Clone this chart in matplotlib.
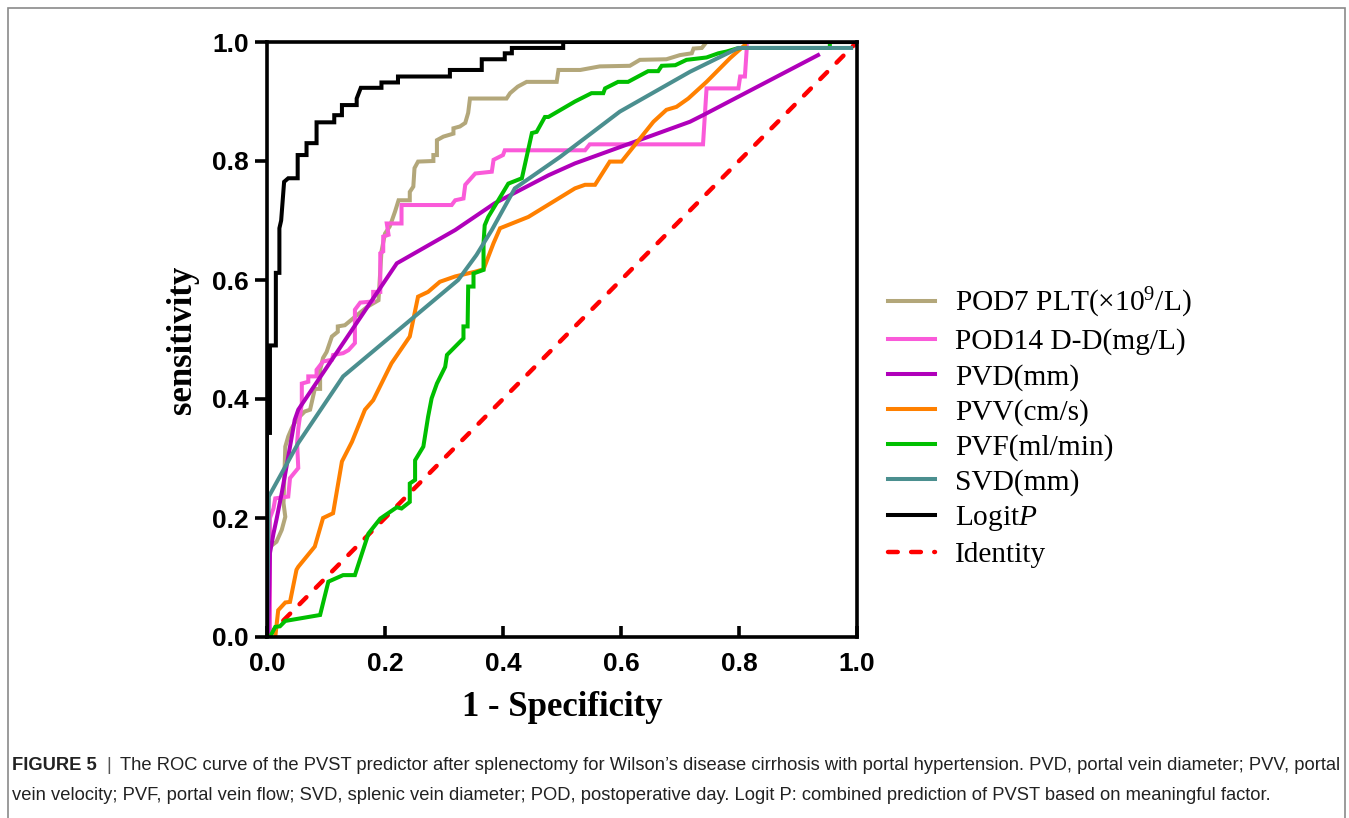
import matplotlib
matplotlib.use("Agg")
import matplotlib.pyplot as plt
from matplotlib.patches import Rectangle

plt.rcParams['mathtext.fontset'] = 'custom'
plt.rcParams['mathtext.rm'] = 'Liberation Serif'
plt.rcParams['mathtext.it'] = 'Liberation Serif:italic'

# ROC curves (x = 1 - specificity, y = sensitivity)
plt_x = [0.0, 0.003, 0.016, 0.025, 0.031, 0.028, 0.031, 0.036, 0.042, 0.050, 0.064, 0.073,
         0.076, 0.081, 0.090, 0.090, 0.095, 0.101, 0.110, 0.120, 0.120, 0.132, 0.149, 0.170,
         0.189, 0.194, 0.200, 0.208, 0.211, 0.217, 0.223, 0.242, 0.242, 0.248, 0.250, 0.256,
         0.282, 0.282, 0.288, 0.288, 0.299, 0.316, 0.316, 0.327, 0.336, 0.341, 0.344, 0.406,
         0.412, 0.425, 0.440, 0.491, 0.494, 0.531, 0.564, 0.615, 0.632, 0.677, 0.700, 0.720,
         0.723, 0.737, 0.745, 1.0]
plt_y = [0.0, 0.150, 0.160, 0.180, 0.202, 0.225, 0.320, 0.337, 0.351, 0.365, 0.379, 0.382,
         0.395, 0.417, 0.417, 0.449, 0.469, 0.479, 0.505, 0.513, 0.522, 0.524, 0.538, 0.555,
         0.566, 0.648, 0.678, 0.690, 0.698, 0.715, 0.734, 0.734, 0.748, 0.757, 0.788, 0.799,
         0.800, 0.810, 0.810, 0.835, 0.841, 0.846, 0.855, 0.858, 0.864, 0.881, 0.905, 0.905,
         0.914, 0.925, 0.933, 0.933, 0.953, 0.953, 0.959, 0.960, 0.970, 0.971, 0.978, 0.981,
         0.989, 0.990, 1.0, 1.0]

dd_x = [0.005, 0.005, 0.011, 0.014, 0.036, 0.039, 0.053, 0.051, 0.053, 0.059, 0.059, 0.070,
        0.070, 0.084, 0.084, 0.095, 0.110, 0.112, 0.129, 0.138, 0.149, 0.149, 0.158, 0.180,
        0.180, 0.192, 0.192, 0.197, 0.197, 0.206, 0.203, 0.228, 0.228, 0.313, 0.319, 0.333,
        0.336, 0.353, 0.381, 0.384, 0.400, 0.403, 0.539, 0.547, 0.739, 0.745, 0.799, 0.802,
        0.810, 0.813, 0.813, 1.0]
dd_y = [0.0, 0.200, 0.216, 0.233, 0.236, 0.267, 0.284, 0.326, 0.350, 0.393, 0.426, 0.429,
        0.438, 0.438, 0.449, 0.463, 0.466, 0.474, 0.477, 0.482, 0.494, 0.550, 0.562, 0.564,
        0.580, 0.580, 0.645, 0.648, 0.673, 0.676, 0.695, 0.695, 0.726, 0.726, 0.734, 0.737,
        0.760, 0.779, 0.782, 0.802, 0.810, 0.818, 0.818, 0.828, 0.828, 0.922, 0.922, 0.942,
        0.942, 0.987, 1.0, 1.0]

pvd_x = [0.002, 0.004, 0.005, 0.011, 0.016, 0.025, 0.033, 0.047, 0.053, 0.220, 0.319,
         0.386, 0.477, 0.522, 0.717, 0.739, 0.934]
pvd_y = [0.0, 0.085, 0.141, 0.174, 0.197, 0.242, 0.286, 0.365, 0.382, 0.628, 0.684,
         0.729, 0.776, 0.796, 0.866, 0.877, 0.978]

pvv_x = [0.014, 0.019, 0.031, 0.039, 0.050, 0.053, 0.081, 0.095, 0.112, 0.127, 0.144, 0.166,
         0.180, 0.211, 0.242, 0.256, 0.273, 0.293, 0.319, 0.353, 0.367, 0.384, 0.395, 0.443,
         0.522, 0.539, 0.556, 0.581, 0.601, 0.655, 0.677, 0.694, 0.714, 0.745, 0.785, 0.810,
         0.810, 1.0]
pvv_y = [0.0, 0.045, 0.058, 0.059, 0.113, 0.118, 0.152, 0.200, 0.208, 0.295, 0.328, 0.382,
         0.398, 0.460, 0.505, 0.572, 0.580, 0.597, 0.606, 0.614, 0.618, 0.662, 0.687, 0.706,
         0.754, 0.760, 0.760, 0.799, 0.799, 0.866, 0.886, 0.891, 0.905, 0.933, 0.973, 0.995,
         1.0, 1.0]

pvf_x = [0.005, 0.014, 0.022, 0.031, 0.090, 0.104, 0.129, 0.149, 0.172, 0.192, 0.220, 0.228,
         0.242, 0.242, 0.251, 0.251, 0.265, 0.273, 0.279, 0.288, 0.302, 0.305, 0.333, 0.333,
         0.340, 0.341, 0.350, 0.350, 0.367, 0.367, 0.369, 0.375, 0.409, 0.432, 0.449, 0.457,
         0.471, 0.477, 0.522, 0.550, 0.570, 0.573, 0.595, 0.612, 0.646, 0.663, 0.669, 0.692,
         0.711, 0.745, 0.765, 0.779, 0.796, 0.805, 0.954, 0.954, 1.0]
pvf_y = [0.0, 0.017, 0.018, 0.027, 0.037, 0.093, 0.104, 0.104, 0.174, 0.199, 0.218, 0.216,
         0.227, 0.258, 0.264, 0.297, 0.320, 0.370, 0.401, 0.426, 0.454, 0.474, 0.502, 0.522,
         0.522, 0.589, 0.589, 0.611, 0.617, 0.662, 0.692, 0.706, 0.762, 0.771, 0.847, 0.849,
         0.874, 0.874, 0.900, 0.914, 0.914, 0.922, 0.933, 0.933, 0.951, 0.951, 0.960, 0.961,
         0.970, 0.974, 0.981, 0.984, 0.989, 0.990, 0.990, 1.0, 1.0]

svd_x = [0.0, 0.003, 0.053, 0.129, 0.324, 0.355, 0.381, 0.420, 0.497, 0.598, 0.717, 0.799, 0.99]
svd_y = [0.0, 0.236, 0.326, 0.438, 0.600, 0.642, 0.684, 0.754, 0.807, 0.883, 0.950, 0.990, 0.990]

logit_x = [0.0, 0.0, 0.005, 0.005, 0.015, 0.015, 0.021, 0.021, 0.024, 0.029, 0.036, 0.052,
           0.052, 0.067, 0.067, 0.084, 0.084, 0.114, 0.114, 0.127, 0.127, 0.152, 0.152, 0.159,
           0.194, 0.194, 0.222, 0.222, 0.310, 0.310, 0.364, 0.364, 0.403, 0.403, 0.415, 0.415,
           0.502, 0.502, 1.0]
logit_y = [0.0, 0.343, 0.343, 0.490, 0.490, 0.612, 0.612, 0.687, 0.700, 0.765, 0.771, 0.771,
           0.810, 0.810, 0.830, 0.830, 0.865, 0.865, 0.877, 0.877, 0.894, 0.894, 0.905, 0.923,
           0.923, 0.932, 0.932, 0.942, 0.942, 0.953, 0.953, 0.971, 0.971, 0.981, 0.981, 0.990,
           0.990, 1.0, 1.0]

labels = [r'POD7 PLT($\times$10$^{9}$/L)', 'POD14 D-D(mg/L)', 'PVD(mm)', 'PVV(cm/s)',
          'PVF(ml/min)', 'SVD(mm)', r'Logit$\mathit{P}$', 'Identity']
colors = ['#B3A77A', '#FA5AD9', '#B000BA', '#FF8000', '#00BF00', '#4B8F8F', '#000000', '#FF0000']
ticks = [0, 0.2, 0.4, 0.6, 0.8, 1.0]
tick_labels = ['0.0', '0.2', '0.4', '0.6', '0.8', '1.0']

fig = plt.figure(figsize=(13.49, 8.18), dpi=100)
ax = fig.add_axes([267 / 1349, 181 / 818, 590 / 1349, 595 / 818])

lw = 2.9
ax.plot([0, 1], [0, 1], color=colors[7], lw=3.2, ls=(0, (2.2, 3.0)),
        dash_capstyle='round', label=labels[7], zorder=1)
series = [(plt_x, plt_y), (dd_x, dd_y), (pvd_x, pvd_y), (pvv_x, pvv_y),
          (pvf_x, pvf_y), (svd_x, svd_y), (logit_x, logit_y)]
lines = []
for i, (xs, ys) in enumerate(series):
    ln, = ax.plot(xs, ys, color=colors[i], lw=lw, label=labels[i], zorder=2 + i,
                  solid_joinstyle='miter')
    lines.append(ln)

ax.set_xlim(0, 1)
ax.set_ylim(0, 1)
ax.set_xticks(ticks)
ax.set_yticks(ticks)
ax.set_xticklabels(tick_labels)
ax.set_yticklabels(tick_labels)
for s in ax.spines.values():
    s.set_linewidth(2.6)
    s.set_zorder(20)
ax.tick_params(axis='x', direction='in', length=8, width=2.6, pad=11)
ax.tick_params(axis='y', direction='out', length=9, width=2.6, pad=4)
for t in ax.get_xticklabels() + ax.get_yticklabels():
    t.set_fontfamily('Liberation Sans')
    t.set_fontweight('bold')
    t.set_fontsize(19)

ax.set_xlabel('1 - Specificity', fontfamily='Liberation Serif', fontweight='bold', fontsize=25)
ax.set_ylabel('sensitivity', fontfamily='Liberation Serif', fontweight='bold', fontsize=25)
ax.xaxis.set_label_coords((562 - 267) / 590, -(54 / 595))
ax.yaxis.set_label_coords(-(68 / 590), 0.5)

handles = lines + [ax.lines[0]]
leg = fig.legend(handles, labels, loc='upper left', bbox_to_anchor=(888 / 1349, 1 - 286 / 818),
                 frameon=False, borderpad=0, borderaxespad=0,
                 prop={'family': 'Liberation Serif', 'size': 21.2},
                 handlelength=1.6, handletextpad=0.68, labelspacing=0.28)

# figure border and caption
fig.patches.append(Rectangle((8 / 1349, -0.01), (1345 - 8) / 1349, (818 - 8) / 818 + 0.01,
                             transform=fig.transFigure, fill=False, edgecolor='#8a8a8a', lw=1.2))
cap_size = 13.2
fig.text(12 / 1349, 1 - 765 / 818, 'FIGURE 5', fontfamily='Liberation Sans', fontweight='bold',
         fontsize=cap_size, va='center', color='#222222')
fig.text(106 / 1349, 1 - 765 / 818, '|', fontfamily='Liberation Sans', fontsize=cap_size,
         va='center', color='#555555')
fig.text(120 / 1349, 1 - 765 / 818,
         'The ROC curve of the PVST predictor after splenectomy for Wilson\u2019s disease cirrhosis '
         'with portal hypertension. PVD, portal vein diameter; PVV, portal',
         fontfamily='Liberation Sans', fontsize=cap_size, va='center', color='#222222')
fig.text(12 / 1349, 1 - 795 / 818,
         'vein velocity; PVF, portal vein flow; SVD, splenic vein diameter; POD, postoperative day. '
         'Logit P: combined prediction of PVST based on meaningful factor.',
         fontfamily='Liberation Sans', fontsize=cap_size, va='center', color='#222222')

fig.savefig('out.png', dpi=100)
